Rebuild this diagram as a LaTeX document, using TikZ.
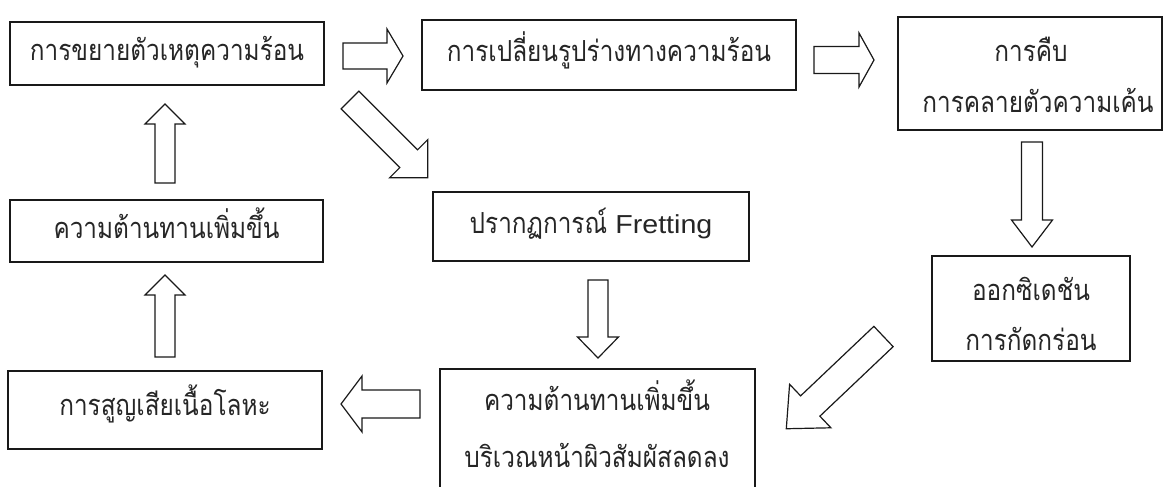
\documentclass[tikz,border=0pt]{standalone}
\usepackage{fontspec}
\newfontfamily\thaifont[Script=Thai,FakeStretch=0.84]{Loma}
\newfontfamily\latinfont[FakeStretch=1.1]{Liberation Sans}
\tikzset{
  boxst/.style={draw=black!90, line width=1.2pt, fill=white, inner sep=0pt,
    text=black!85, font=\thaifont\fontsize{29}{34}\selectfont,
    text height=17pt, text depth=3pt},
  linest/.style={inner sep=0pt, text=black!85, font=\thaifont\fontsize{29}{34}\selectfont,
    text height=17pt, text depth=3pt},
  arrowline/.style={draw=black!90, line width=1.2pt, fill=white, line join=miter},
  pics/barrow/.style n args={4}{code={
    \path[arrowline] (0,-#2/2) -- (#1-#4,-#2/2) -- (#1-#4,-#3/2) -- (#1,0)
      -- (#1-#4,#3/2) -- (#1-#4,#2/2) -- (0,#2/2) -- cycle;
  }},
}
\begin{document}
\begin{tikzpicture}[x=1pt,y=-1pt]
\useasboundingbox (0,0) rectangle (1164,487);
\clip (0,0) rectangle (1164,487);
% boxes
\node[boxst, minimum width=314pt, minimum height=63pt] (b1) at (167,53.5) {การขยายตัวเหตุความร้อน};
\node[boxst, minimum width=374pt, minimum height=70pt] (b2) at (609,55) {การเปลี่ยนรูปร่างทางความร้อน};
\node[boxst, minimum width=264pt, minimum height=113pt] (b3) at (1030,73.5) {};
\node[linest] (t3a) at (1031,55) {การคืบ};
\node[linest] (t3b) at (1038,105) {การคลายตัวความเค้น};
\node[boxst, minimum width=313pt, minimum height=62pt] (b4) at (166.5,231) {ความต้านทานเพิ่มขึ้น};
\node[boxst, minimum width=316pt, minimum height=69pt] (b5) at (591,226.5) {ปรากฏการณ์ {\latinfont\fontsize{26}{30}\selectfont Fretting}};
\node[boxst, minimum width=198pt, minimum height=105pt] (b6) at (1031,308.5) {};
\node[linest] (t6a) at (1031,293) {ออกซิเดชัน};
\node[linest] (t6b) at (1031,343) {การกัดกร่อน};
\node[boxst, minimum width=314pt, minimum height=78pt] (b7) at (165,410) {};
\node[linest] (t7) at (165,408) {การสูญเสียเนื้อโลหะ};
\node[boxst, minimum width=315pt, minimum height=160pt] (b8) at (597.5,449) {};
\node[linest] (t8a) at (597,403) {ความต้านทานเพิ่มขึ้น};
\node[linest] (t8b) at (597,460) {บริเวณหน้าผิวสัมผัสลดลง};
% arrow anchors
\coordinate (a1) at (343,56);
\coordinate (a2) at (814,60);
\coordinate (a3) at (350,100);
\coordinate (a4) at (1032,142);
\coordinate (a5) at (165,183);
\coordinate (a6) at (165,357);
\coordinate (a7) at (598,280);
\coordinate (a8) at (420,404);
\coordinate (a9) at (883.5,336.5);
% block arrows
\pic at (a1) {barrow={60}{26}{54}{16}};
\pic at (a2) {barrow={60}{27}{54}{15}};
\pic[rotate=-45] at (a3) {barrow={110}{25}{54}{27}};
\pic[rotate=-90] at (a4) {barrow={105}{21}{41}{27}};
\pic[rotate=90] at (a5) {barrow={79}{20}{40}{20}};
\pic[rotate=90] at (a6) {barrow={82}{20}{40}{20}};
\pic[rotate=-90] at (a7) {barrow={78}{20}{41}{21}};
\pic[rotate=180] at (a8) {barrow={79}{28}{56}{21}};
\pic[rotate=-136.5] at (a9) {barrow={134}{28}{60}{33}};
\end{tikzpicture}
\end{document}
